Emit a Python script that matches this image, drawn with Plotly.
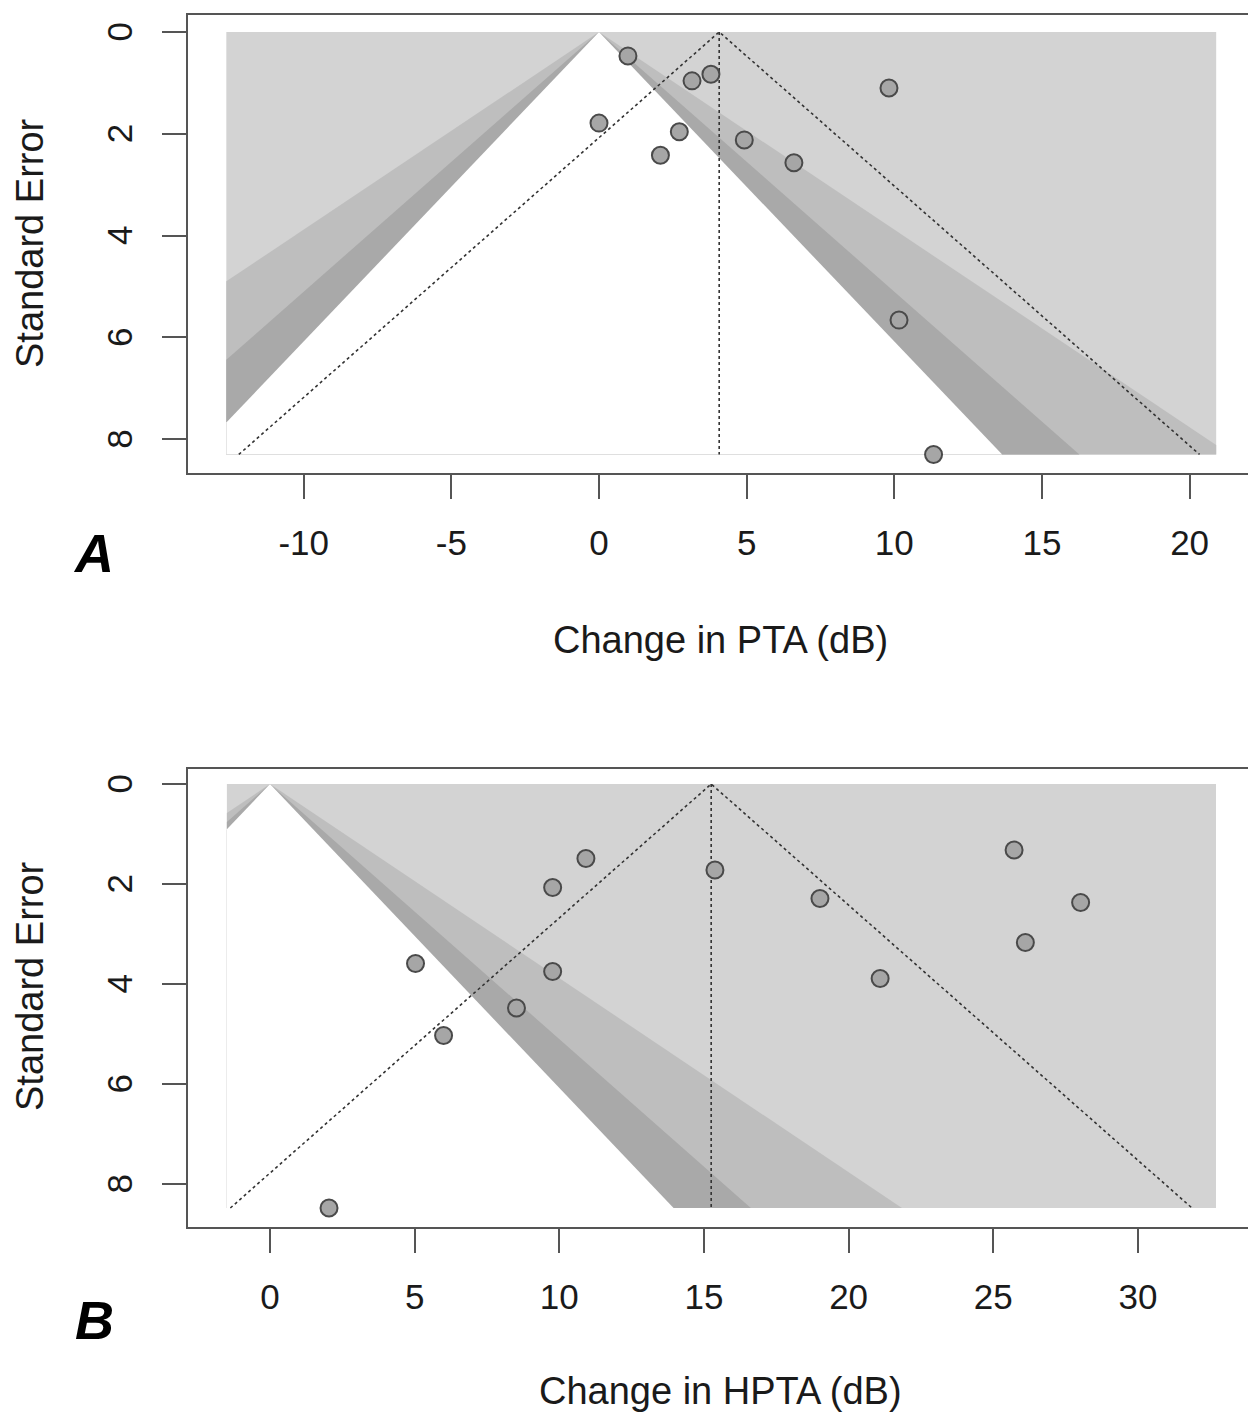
import plotly.graph_objects as go

# ---------------- data ----------------
# Panel A: change in PTA (dB)
a_effect = [0.98, 3.15, 3.79, 9.82, 0.0, 2.72, 2.08, 4.92, 6.60, 10.16, 11.33]
a_se     = [0.47, 0.96, 0.83, 1.10, 1.79, 1.96, 2.42, 2.12, 2.57, 5.66, 8.30]
a_estimate = 4.07
a_xlim = [-12.62, 20.9]

# Panel B: change in HPTA (dB)
b_effect = [10.92, 9.77, 15.38, 25.72, 19.01, 28.02, 26.11, 5.03, 9.77, 21.09, 8.52, 6.00, 2.04]
b_se     = [1.49, 2.07, 1.72, 1.32, 2.29, 2.37, 3.17, 3.59, 3.75, 3.89, 4.48, 5.03, 8.48]
b_estimate = 15.25
b_xlim = [-1.49, 32.7]

# contour levels (z for p = .10, .05, .01) and their shades
contour_z      = [2.576, 1.960, 1.645]
contour_colors = ["#bebebe", "#a9a9a9", "#ffffff"]
back_color = "#d3d3d3"

a_xticks = [-10, -5, 0, 5, 10, 15, 20]
a_xticktext = ["-10", "-5", "0", "5", "10", "15", "20"]
b_xticks = [0, 5, 10, 15, 20, 25, 30]
b_xticktext = ["0", "5", "10", "15", "20", "25", "30"]
y_ticks = [0, 2, 4, 6, 8]
y_ticktext = ["0", "2", "4", "6", "8"]

# ---------------- figure ----------------
W, H = 1248, 1414
fig = go.Figure()

AXC = "#555555"
TXT = "#1a1a1a"
FONT = "Liberation Sans, Arial, sans-serif"


def cone(z, xlo, xhi, smax):
    xs, ys = [0.0], [0.0]
    if z * smax > xhi:
        xs += [xhi, xhi]; ys += [xhi / z, smax]
    else:
        xs += [z * smax]; ys += [smax]
    if -z * smax < xlo:
        xs += [xlo, xlo]; ys += [smax, -xlo / z]
    else:
        xs += [-z * smax]; ys += [smax]
    xs.append(0.0); ys.append(0.0)
    return xs, ys


def add_panel(effect, se, est, xlim, xa, ya):
    smax = max(se)
    xlo, xhi = xlim
    # background
    fig.add_trace(go.Scatter(x=[xlo, xhi, xhi, xlo, xlo], y=[0, 0, smax, smax, 0],
                             mode="lines", fill="toself", fillcolor=back_color,
                             line=dict(width=0), hoverinfo="skip", showlegend=False,
                             xaxis=xa, yaxis=ya))
    for z, c in zip(contour_z, contour_colors):
        xs, ys = cone(z, xlo, xhi, smax)
        fig.add_trace(go.Scatter(x=xs, y=ys, mode="lines", fill="toself", fillcolor=c,
                                 line=dict(width=0), hoverinfo="skip", showlegend=False,
                                 xaxis=xa, yaxis=ya))
    # pseudo-confidence funnel
    zc = 1.96
    fig.add_trace(go.Scatter(x=[est - zc * smax, est, est + zc * smax], y=[smax, 0, smax],
                             mode="lines", line=dict(color="#333333", width=1.6, dash="dot"),
                             hoverinfo="skip", showlegend=False, xaxis=xa, yaxis=ya))
    fig.add_trace(go.Scatter(x=[est, est], y=[0, smax],
                             mode="lines", line=dict(color="#333333", width=1.6, dash="dot"),
                             hoverinfo="skip", showlegend=False, xaxis=xa, yaxis=ya))
    # studies
    fig.add_trace(go.Scatter(x=effect, y=se, mode="markers",
                             marker=dict(size=17, color="#a6a6a6",
                                         line=dict(color="#4a4a4a", width=2)),
                             showlegend=False, xaxis=xa, yaxis=ya))


add_panel(a_effect, a_se, a_estimate, a_xlim, "x", "y")
add_panel(b_effect, b_se, b_estimate, b_xlim, "x2", "y2")

xdom = [188 / W, 1.0]
ydomA = [(H - 473) / H, (H - 15) / H]
ydomB = [(H - 1227) / H, (H - 769) / H]

# axis ranges from pixel geometry
a_xrange = [(188 - 599) / 29.53, (1248 - 599) / 29.53]
b_xrange = [(188 - 270) / 28.93, (1248 - 270) / 28.93]
a_yrange = [(473 - 32) / 50.9, (15 - 32) / 50.9]
b_yrange = [(1227 - 784) / 50.0, (769 - 784) / 50.0]

xcommon = dict(showline=True, linecolor=AXC, linewidth=2, mirror=True,
               ticks="outside", ticklen=24, tickwidth=2, tickcolor=AXC,
               showgrid=False, zeroline=False, domain=xdom,
               tickfont=dict(size=35, color=TXT, family=FONT),
               ticklabelstandoff=14)
ycommon = dict(showline=True, linecolor=AXC, linewidth=2, mirror=False,
               ticks="outside", ticklen=24, tickwidth=2, tickcolor=AXC,
               showgrid=False, zeroline=False, tickvals=y_ticks, ticktext=y_ticktext,
               tickangle=-90, tickfont=dict(size=35, color=TXT, family=FONT),
               ticklabelstandoff=16, ticklabelshift=-5)

fig.update_layout(
    width=W, height=H, margin=dict(l=0, r=0, t=0, b=0),
    paper_bgcolor="white", plot_bgcolor="white",
    font=dict(family=FONT, color=TXT),
    xaxis=dict(xcommon, range=a_xrange, tickvals=a_xticks, ticktext=a_xticktext, anchor="y"),
    yaxis=dict(ycommon, range=a_yrange, domain=ydomA, anchor="x"),
    xaxis2=dict(xcommon, range=b_xrange, tickvals=b_xticks, ticktext=b_xticktext, anchor="y2"),
    yaxis2=dict(ycommon, range=b_yrange, domain=ydomB, anchor="x2"),
)

ann = []
for label, yc in [("Standard Error", 243), ("Standard Error", 986)]:
    ann.append(dict(text=label, x=30 / W, y=(H - yc) / H, xref="paper", yref="paper",
                    showarrow=False, textangle=-90, font=dict(size=38, color=TXT, family=FONT),
                    xanchor="center", yanchor="middle"))
for label, yc in [("Change in PTA (dB)", 640), ("Change in HPTA (dB)", 1391)]:
    ann.append(dict(text=label, x=721 / W, y=(H - yc) / H, xref="paper", yref="paper",
                    showarrow=False, font=dict(size=38, color=TXT, family=FONT),
                    xanchor="center", yanchor="middle"))
for label, xc, yc in [("A", 93, 553), ("B", 95, 1320)]:
    ann.append(dict(text="<b><i>" + label + "</i></b>", x=xc / W, y=(H - yc) / H,
                    xref="paper", yref="paper", showarrow=False,
                    font=dict(size=54, color="#000000", family=FONT),
                    xanchor="center", yanchor="middle"))
fig.update_layout(annotations=ann)

fig.write_html("out.html", config={"displayModeBar": False},
               post_script="document.body.style.margin='0px';document.body.style.padding='0px';")
